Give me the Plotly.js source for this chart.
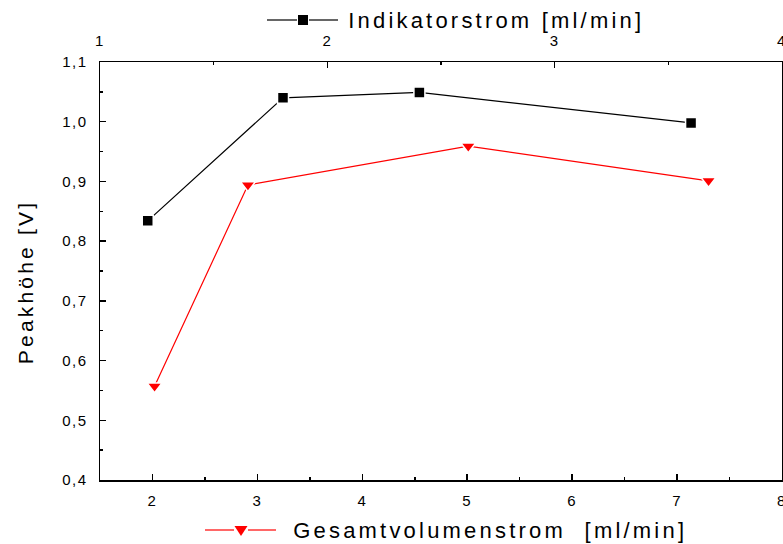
<!DOCTYPE html>
<html>
<head>
<meta charset="utf-8">
<script src="https://cdn.plot.ly/plotly-3.0.1.min.js"></script>
<style>
  html, body { margin: 0; padding: 0; background: #fff; overflow: hidden; }
  #chart { width: 783px; height: 544px; }
  .main-svg text.annotation-text { letter-spacing: 3.2px; }
  .main-svg .xtick text, .main-svg .x2tick text, .main-svg .ytick text { letter-spacing: 1.5px; }
</style>
</head>
<body>
<div id="chart"></div>
<script>
// Indikatorstrom series (top axis, ml/min) and its peak heights
const indikatorstrom = [1.21, 1.805, 2.405, 3.60];
const peakIndikator  = [0.834, 1.040, 1.049, 0.998];

// Gesamtvolumenstrom series (bottom axis, ml/min) and its peak heights
const gesamtvolumenstrom = [2.02, 2.91, 5.01, 7.30];
const peakGesamt         = [0.557, 0.894, 0.959, 0.901];

const labelTop    = 'Indikatorstrom [ml/min]';
const labelBottom = 'Gesamtvolumenstrom  [ml/min]';
const labelY      = 'Peakhöhe [V]';

const W = 783, H = 544;
const M = { l: 100, r: 1, t: 62, b: 64 };
const plotW = W - M.l - M.r, plotH = H - M.t - M.b;
// pixel -> paper helpers for the axis titles and keys
const px = x => (x - M.l) / plotW;
const py = y => (H - M.b - y) / plotH;

const FONT = 'Liberation Sans, Arial, sans-serif';
const NARROW = 'Liberation Sans Narrow, Liberation Sans, Arial, sans-serif';

const traces = [
  {
    x: indikatorstrom, y: peakIndikator, xaxis: 'x2', yaxis: 'y',
    type: 'scatter', mode: 'lines+markers', cliponaxis: false,
    line: { color: '#000', width: 1.2 },
    marker: { symbol: 'square', size: 11, color: '#000', line: { color: '#fff', width: 1.5 } },
    showlegend: false, hoverinfo: 'skip'
  },
  {
    x: gesamtvolumenstrom, y: peakGesamt, xaxis: 'x', yaxis: 'y',
    type: 'scatter', mode: 'lines+markers', cliponaxis: false,
    line: { color: '#ff0000', width: 1.2 },
    marker: { symbol: 'triangle-down', size: 13, color: '#ff0000', line: { color: '#fff', width: 1.5 } },
    showlegend: false, hoverinfo: 'skip'
  }
];

const tickFont = { family: FONT, size: 15, color: '#000' };

const layout = {
  width: W, height: H,
  margin: M,
  paper_bgcolor: '#fff', plot_bgcolor: '#fff',
  separators: ', ',
  showlegend: false,
  xaxis: {
    range: [1.5, 8], dtick: 1, tick0: 0,
    ticks: 'inside', ticklen: 6, tickwidth: 1.5, tickcolor: '#000',
    minor: { dtick: 0.5, ticks: 'inside', ticklen: 3, tickwidth: 1.5, tickcolor: '#000' },
    showline: true, linecolor: '#000', linewidth: 1.5, mirror: false,
    showgrid: false, zeroline: false, ticklabeloverflow: 'allow',
    tickfont: tickFont, ticklabelstandoff: 6
  },
  xaxis2: {
    range: [1, 4], dtick: 1, tick0: 0, overlaying: 'x', side: 'top', anchor: 'y',
    ticks: 'inside', ticklen: 6, tickwidth: 1.5, tickcolor: '#000',
    minor: { dtick: 0.5, ticks: 'inside', ticklen: 3, tickwidth: 1.5, tickcolor: '#000' },
    showline: true, linecolor: '#000', linewidth: 1.5,
    showgrid: false, zeroline: false, ticklabeloverflow: 'allow',
    tickfont: tickFont, ticklabelstandoff: 9
  },
  yaxis: {
    range: [0.4, 1.1], dtick: 0.1, tick0: 0, tickformat: '.1f',
    ticks: 'inside', ticklen: 6, tickwidth: 1.5, tickcolor: '#000',
    minor: { dtick: 0.05, ticks: 'inside', ticklen: 3, tickwidth: 1.5, tickcolor: '#000' },
    showline: true, linecolor: '#000', linewidth: 1.5, mirror: true,
    showgrid: false, zeroline: false,
    tickfont: tickFont, ticklabelstandoff: 8
  },
  shapes: [
    // top key: black line with square
    { type: 'line', xref: 'paper', yref: 'paper', x0: px(267), x1: px(297), y0: py(20), y1: py(20), line: { color: '#000', width: 1.2 } },
    { type: 'line', xref: 'paper', yref: 'paper', x0: px(309), x1: px(338), y0: py(20), y1: py(20), line: { color: '#000', width: 1.2 } },
    { type: 'rect', xref: 'paper', yref: 'paper', xsizemode: 'pixel', ysizemode: 'pixel',
      xanchor: px(303), yanchor: py(20), x0: -5, x1: 5, y0: -5, y1: 5,
      fillcolor: '#000', line: { width: 0 } },
    // bottom key: red line with down triangle
    { type: 'line', xref: 'paper', yref: 'paper', x0: px(205), x1: px(234), y0: py(530), y1: py(530), line: { color: '#ff0000', width: 1.2 } },
    { type: 'line', xref: 'paper', yref: 'paper', x0: px(248), x1: px(276), y0: py(530), y1: py(530), line: { color: '#ff0000', width: 1.2 } },
    { type: 'path', xref: 'paper', yref: 'paper', xsizemode: 'pixel', ysizemode: 'pixel',
      xanchor: px(241), yanchor: py(530), path: 'M-6.5,4 L6.5,4 L0,-6 Z',
      fillcolor: '#ff0000', line: { width: 0 } }
  ],
  annotations: [
    { text: labelTop, xref: 'paper', yref: 'paper', x: px(496), y: py(20),
      xanchor: 'center', yanchor: 'middle', showarrow: false,
      font: { family: NARROW, size: 22, color: '#000' } },
    { text: labelBottom, xref: 'paper', yref: 'paper', x: px(490), y: py(530),
      xanchor: 'center', yanchor: 'middle', showarrow: false,
      font: { family: NARROW, size: 22, color: '#000' } },
    { text: labelY, xref: 'paper', yref: 'paper', x: px(25), y: py(282),
      xanchor: 'center', yanchor: 'middle', textangle: -90, showarrow: false,
      font: { family: FONT, size: 21, color: '#000' } }
  ]
};

Plotly.newPlot('chart', traces, layout, { staticPlot: true, displayModeBar: false });
</script>
</body>
</html>
